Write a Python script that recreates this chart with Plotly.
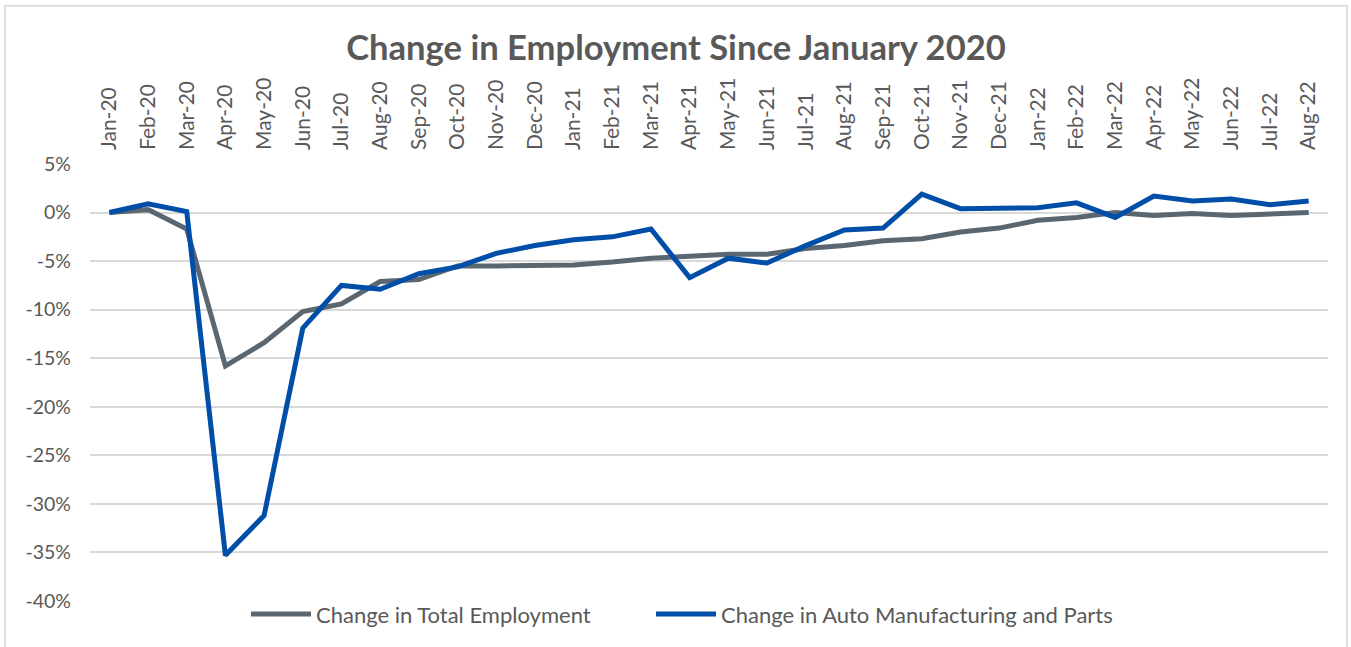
import plotly.graph_objects as go

months = ["Jan-20","Feb-20","Mar-20","Apr-20","May-20","Jun-20","Jul-20","Aug-20","Sep-20","Oct-20",
          "Nov-20","Dec-20","Jan-21","Feb-21","Mar-21","Apr-21","May-21","Jun-21","Jul-21","Aug-21",
          "Sep-21","Oct-21","Nov-21","Dec-21","Jan-22","Feb-22","Mar-22","Apr-22","May-22","Jun-22",
          "Jul-22","Aug-22"]

total_employment = [0.0, 0.3, -1.7, -15.8, -13.4, -10.2, -9.4, -7.1, -6.9, -5.5,
                    -5.5, -5.5, -5.4, -5.1, -4.7, -4.5, -4.3, -4.3, -3.7, -3.4,
                    -2.9, -2.7, -2.0, -1.6, -0.8, -0.5, 0.0, -0.3, -0.1, -0.3,
                    -0.2, 0.0]

auto_mfg = [0.0, 0.9, 0.1, -35.3, -31.2, -11.9, -7.5, -7.9, -6.3, -5.6,
            -4.2, -3.4, -2.8, -2.5, -1.7, -6.7, -4.7, -5.2, -3.4, -1.8,
            -1.6, 1.9, 0.4, 0.5, 0.5, 1.0, -0.5, 1.7, 1.2, 1.4,
            0.8, 1.2]

y_ticks = [5, 0, -5, -10, -15, -20, -25, -30, -35, -40]
y_tick_text = [f"{v}%" for v in y_ticks]

FONT = "Lato"
TEXT_COLOR = "#595959"

fig = go.Figure()
fig.add_trace(go.Scatter(x=months, y=total_employment, mode="lines",
                         name="Change in Total Employment", legend="legend",
                         line=dict(color="#5b6770", width=5)))
fig.add_trace(go.Scatter(x=months, y=auto_mfg, mode="lines",
                         name="Change in Auto Manufacturing and Parts", legend="legend2",
                         line=dict(color="#004ea8", width=5)))

legend_common = dict(orientation="h", xanchor="left", y=-0.03, yanchor="middle",
                     font=dict(size=22, color=TEXT_COLOR), itemwidth=60,
                     bgcolor="rgba(0,0,0,0)")

fig.update_layout(
    width=1351, height=647,
    paper_bgcolor="white", plot_bgcolor="white",
    font=dict(family=FONT, color=TEXT_COLOR, size=18),
    margin=dict(l=90, r=23, t=164, b=44),
    title=dict(text="<b>Change in Employment Since January 2020</b>",
               x=(676 - 90) / 1238, xref="paper", xanchor="center",
               y=1 - 48 / 647, yref="container", yanchor="middle",
               font=dict(family=FONT, size=34.6, color=TEXT_COLOR)),
    showlegend=True,
    legend=dict(x=(246 - 90) / 1238, **legend_common),
    legend2=dict(x=(651 - 90) / 1238, **legend_common),
    xaxis=dict(side="top", type="category", tickangle=-90, showgrid=False,
               showline=False, zeroline=False, ticks="",
               tickfont=dict(size=21, color=TEXT_COLOR),
               ticklabelstandoff=13,
               range=[-0.5, len(months) - 0.5], fixedrange=True),
    yaxis=dict(range=[-40, 5], tickvals=y_ticks, ticktext=y_tick_text,
               showgrid=True, gridcolor="#d9d9d9", gridwidth=1.5,
               zeroline=False, showline=False, ticks="",
               tickfont=dict(size=19.5, color=TEXT_COLOR),
               ticklabelstandoff=18, fixedrange=True),
    shapes=[dict(type="rect", xref="paper", yref="paper",
                 x0=(5 - 90) / 1238, x1=(1347 - 90) / 1238,
                 y0=-0.2, y1=(603 - 5) / 439,
                 line=dict(color="#d9d9d9", width=1.5), layer="below")],
)

fig.write_html("out.html", config={"displayModeBar": False},
               post_script="document.body.style.margin='0';document.body.style.padding='0';")
